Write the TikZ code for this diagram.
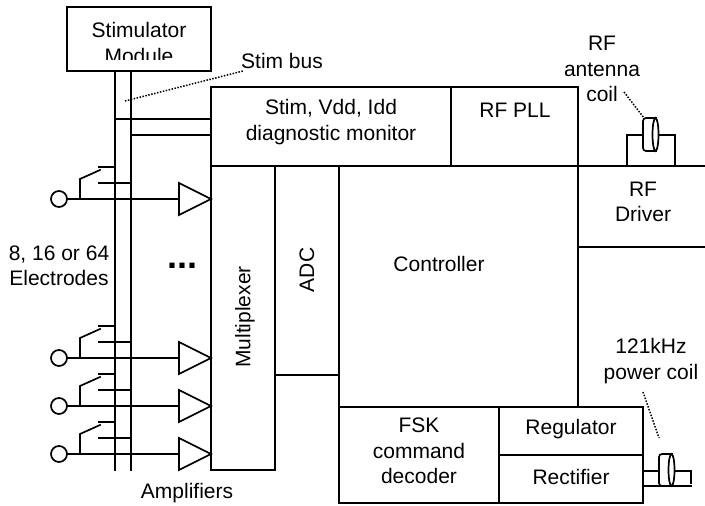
\documentclass[tikz,border=0pt]{standalone}
\usepackage{fontspec}
\setmainfont{Liberation Sans}
\usetikzlibrary{shapes.geometric,calc}
\tikzset{
  wire/.style={line width=0.85pt,line cap=rect},
  leader/.style={line width=0.75pt,dash pattern=on 0.75pt off 0.75pt},
  lbl/.style={inner sep=0pt,align=center,font=\fontsize{10.5}{12.7}\selectfont},
  electrode/.style={circle,draw,line width=0.85pt,fill=white,minimum size=8pt,inner sep=0pt},
  amp/.style={isosceles triangle,isosceles triangle stretches,draw,line width=0.85pt,fill=white,
    minimum width=16pt,minimum height=16pt,inner sep=0pt,outer sep=0pt,anchor=apex},
}
\begin{document}
\begin{tikzpicture}[x=0.5pt,y=-0.5pt]
        \useasboundingbox (0,0) rectangle (705,506);
        \coordinate (bus1top) at (115,71);
        \coordinate (bus1bot) at (115,470);
        \coordinate (bus2top) at (131,71);
        \coordinate (bus2bot) at (131,470);
        \coordinate (mon1) at (211,119);
        \coordinate (mon2) at (211,135);
        %Blocks
        \draw[wire] (67,7) rectangle (211,71);
        \draw[wire] (211,87) rectangle (578,166);
        \draw[wire] (451,87) -- (451,166);
        \draw[wire] (211,166) rectangle (275,470);
        \draw[wire] (275,166) -- (339,166) -- (339,503);
        \draw[wire] (275,375) -- (339,375);
        \draw[wire] (578,166) -- (578,407);
        \draw[wire] (339,407) rectangle (643,503);
        \draw[wire] (499,407) -- (499,503);
        \draw[wire] (499,455) -- (643,455);
        \draw[wire] (578,166) -- (705,166);
        \draw[wire] (578,247) -- (705,247);
        %Bus
        \draw[wire] (bus1top) -- (bus1bot);
        \draw[wire] (bus2top) -- (bus2bot);
        \draw[wire] (115,119) -- (mon1);
        \draw[wire] (131,135) -- (mon2);
        %Electrodes
        \node[electrode] (e1) at (59,199) {};
        \node[electrode] (e2) at (59,358) {};
        \node[electrode] (e3) at (59,406) {};
        \node[electrode] (e4) at (59,454) {};
        \node[amp] (a1) at (211,199) {};
        \node[amp] (a2) at (211,358) {};
        \node[amp] (a3) at (211,406) {};
        \node[amp] (a4) at (211,454) {};
        \draw[wire] (e1) -- (a1.lower side);
        \draw[wire] (e2) -- (a2.lower side);
        \draw[wire] (e3) -- (a3.lower side);
        \draw[wire] (e4) -- (a4.lower side);
        %Switches
        \draw[wire] (80,199) -- (80,179) -- (100,170);
        \draw[wire] (99,167) -- (115,167);
        \draw[wire] (99,183) -- (131,183);
        \draw[wire] (80,358) -- (80,338) -- (100,329);
        \draw[wire] (99,326) -- (115,326);
        \draw[wire] (99,342) -- (131,342);
        \draw[wire] (80,406) -- (80,386) -- (100,377);
        \draw[wire] (99,374) -- (115,374);
        \draw[wire] (99,390) -- (131,390);
        \draw[wire] (80,454) -- (80,434) -- (100,425);
        \draw[wire] (99,422) -- (115,422);
        \draw[wire] (99,438) -- (131,438);
        %Coils
        \draw[wire] (627,166) -- (627,135) -- (675,135) -- (675,166);
        \draw[wire,fill=white,rounded corners=1.5pt] (656,118) -- (643,118) -- (643,151) -- (656,151);
        \draw[wire,fill=white] (655.5,134.5) ellipse (3 and 16.5);
        \draw[wire] (643,471) -- (691,471) -- (691,483);
        \draw[wire] (643,486) -- (691,486);
        \draw[wire,fill=white,rounded corners=1.5pt] (672,454) -- (659,454) -- (659,486) -- (672,486);
        \draw[wire,fill=white] (671.5,470) ellipse (3 and 16);
        %Leaders
        \draw[leader] (125,101) -- (243,71);
        \draw[leader] (624,92) -- (644,118);
        \draw[leader] (643,392) -- (659,438);
        %Labels
        \begin{scope}
          \clip (67,7) rectangle (211,59.5);
          \node[lbl] (stimmod) at (139,43) {Stimulator\\Module};
        \end{scope}
        \node[lbl] (stimbus) at (282,61) {Stim bus};
        \node[lbl] (monitor) at (331,122) {Stim, Vdd, Idd\\diagnostic monitor};
        \node[lbl] (pll) at (515,110) {RF PLL};
        \node[lbl] (antenna) at (602,69) {RF\\antenna\\coil};
        \node[lbl] (driver) at (643,202) {RF\\Driver};
        \node[lbl] (numelec) at (59,266) {8, 16 or 64\\Electrodes};
        \node[lbl,font=\fontsize{18}{18}\bfseries] (dots) at (182,266) {...};
        \node[lbl,rotate=90] (mux) at (245,317) {Multiplexer};
        \node[lbl,rotate=90] (adc) at (307,270) {ADC};
        \node[lbl] (ctrl) at (439,264) {Controller};
        \node[lbl] (fsk) at (419,451) {FSK\\command\\decoder};
        \node[lbl] (reg) at (571,429) {Regulator};
        \node[lbl] (rect) at (571,477) {Rectifier};
        \node[lbl] (power) at (651,361) {121kHz\\power coil};
        \node[lbl] (amps) at (187,493) {Amplifiers};
\end{tikzpicture}
\end{document}
